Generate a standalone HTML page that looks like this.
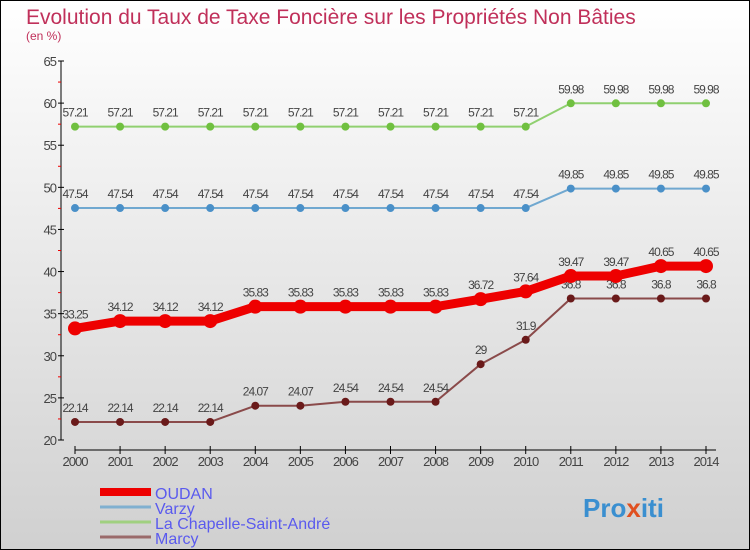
<!DOCTYPE html>
<html><head><meta charset="utf-8"><style>
body{margin:0}
svg{display:block;font-family:"Liberation Sans",sans-serif}
</style></head><body>
<svg id="c" width="750" height="550">
<defs><linearGradient id="bg" x1="0" y1="0" x2="0" y2="1"><stop offset="0" stop-color="#ffffff"/><stop offset="1" stop-color="#d0d0d0"/></linearGradient></defs>
<rect x="0.5" y="0.5" width="749" height="549" fill="url(#bg)" stroke="#000"/>
<text x="26" y="24" font-size="21" fill="#c0305a">Evolution du Taux de Taxe Foncière sur les Propriétés Non Bâties</text>
<text x="26" y="40" font-size="12" fill="#c0305a">(en %)</text>
<g id="axes"></g><g id="series"></g><g id="legend"></g>
<text x="583" y="517" font-size="26" font-weight="bold" fill="#3a8fd0">Pro<tspan fill="#e05020">x</tspan>iti</text>
</svg>
<script>
const years=[2000,2001,2002,2003,2004,2005,2006,2007,2008,2009,2010,2011,2012,2013,2014];
const oudan=[33.25,34.12,34.12,34.12,35.83,35.83,35.83,35.83,35.83,36.72,37.64,39.47,39.47,40.65,40.65];
const varzy=[47.54,47.54,47.54,47.54,47.54,47.54,47.54,47.54,47.54,47.54,47.54,49.85,49.85,49.85,49.85];
const chapelle=[57.21,57.21,57.21,57.21,57.21,57.21,57.21,57.21,57.21,57.21,57.21,59.98,59.98,59.98,59.98];
const marcy=[22.14,22.14,22.14,22.14,24.07,24.07,24.54,24.54,24.54,29,31.9,36.8,36.8,36.8,36.8];
const yTicks=[20,25,30,35,40,45,50,55,60,65];
const NS="http://www.w3.org/2000/svg";
const X=i=>75+i*(631/14);
const Y=v=>440-(v-20)*(379/45);
function mk(p,t,a){const e=document.createElementNS(NS,t);for(const k in a)e.setAttribute(k,a[k]);p.appendChild(e);return e;}
const ax=document.getElementById('axes');
let yl=mk(ax,'line',{x1:61,y1:61,x2:61,y2:440,stroke:'#000'});


yTicks.forEach(v=>{
 let t=mk(ax,'line',{x1:58,y1:Y(v),x2:64,y2:Y(v),stroke:'#000'});
 
 
 if(v<65){let m=mk(ax,'line',{x1:58,y1:Y(v+2.5),x2:61,y2:Y(v+2.5),stroke:'#e00'});
 
 }
 let l=mk(ax,'text',{x:56,y:Y(v)+5,'font-size':13,fill:'#444','text-anchor':'end','letter-spacing':'-1'});
 l.textContent=v;
 
 
});
let xl=mk(ax,'line',{x1:75,y1:450,x2:X(14)+10,y2:450,stroke:'#000'});


years.forEach((y,i)=>{
 let t=mk(ax,'line',{x1:X(i),y1:446,x2:X(i),y2:454,stroke:'#000'});
 
 
 let l=mk(ax,'text',{x:X(i),y:466,'font-size':13,fill:'#444','text-anchor':'middle','letter-spacing':'-1'});
 l.textContent=y;
 
 
});
const sg=document.getElementById('series');
function series(name,data,col,w,r,dot){
 const g=mk(sg,'g',{});
 
 
 let p=mk(g,'polyline',{points:data.map((v,i)=>X(i)+','+Y(v)).join(' '),fill:'none',stroke:col,'stroke-width':w,'stroke-linejoin':'round'});
 
 
 data.forEach((v,i)=>{
  let c=mk(g,'circle',{cx:X(i),cy:Y(v),r:r,fill:dot});
  
  
  let t=mk(g,'text',{x:X(i),y:Y(v)-10,'font-size':12,fill:'#444','text-anchor':'middle','letter-spacing':'-1'});
  t.textContent=v;
  
  
 });
}
series('chapelle',chapelle,'#90d070',2,4,'#70c040');
series('varzy',varzy,'#70a8d0',2,4,'#4a90c8');
series('marcy',marcy,'#8a4a4a',2,4,'#6a1a1a');
series('oudan',oudan,'#ee0000',9,7,'#ee0000');
const lg=document.getElementById('legend');
const names=['OUDAN','Varzy','La Chapelle-Saint-André','Marcy'];
const cols=['#ee0000','#80b0d0','#a0d080','#9a6a6a'];
const ws=[8,3,3,3];
names.forEach((n,i)=>{
 const y=492+i*15;
 let l=mk(lg,'line',{x1:100,y1:y,x2:151,y2:y,stroke:cols[i],'stroke-width':ws[i]});
 
 
 let t=mk(lg,'text',{x:155,y:y+7,'font-size':16,fill:'#5a5aee'});
 t.textContent=n;
 
 
});
</script>
</body></html>
